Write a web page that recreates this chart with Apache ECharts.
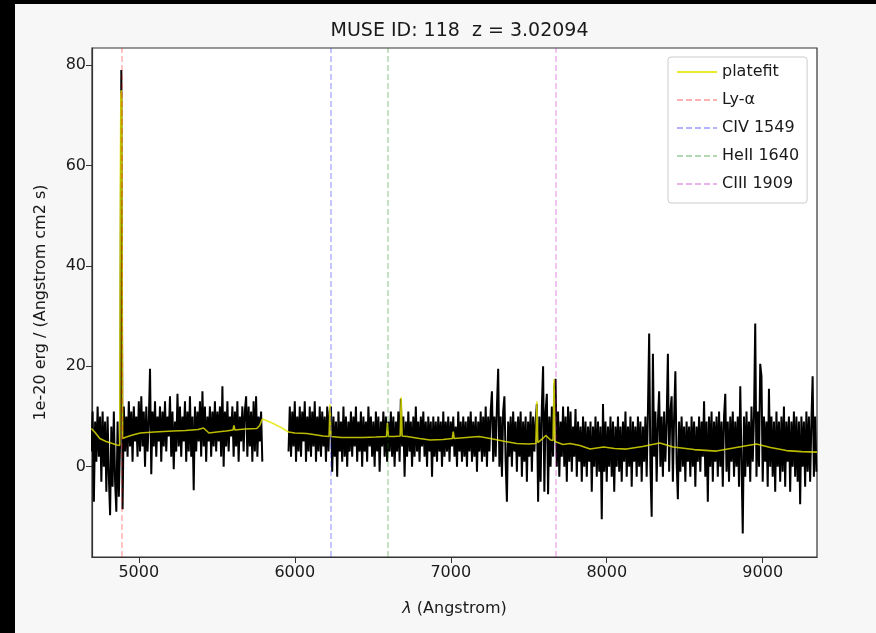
<!DOCTYPE html>
<html><head><meta charset="utf-8">
<script src="https://cdn.jsdelivr.net/npm/echarts@6/dist/echarts.min.js"></script>
<style>
html,body{margin:0;padding:0;background:#000;width:876px;height:633px;overflow:hidden}
#fig{position:absolute;left:15px;top:4px;width:861px;height:629px;background:#f7f7f7}
</style>
</head><body><div id="fig"></div>
<script>
// ---- data ----
const museId = 118;
const redshift = 3.02094;
const fluxStart = 4696;   // first wavelength of the spectrum grid (Angstrom)
const fluxStep = 8;       // grid step (Angstrom)
const flux = [
  3, 11, -7, 9, 1, 12, 2, 10, -3, 11, 0, 9, -5, 10, -2, -9.7, 8, -4, 11, -3, -9, 9, -6, 5, 79,
  -8.5, 12, 3, 10, 2, 13, 4, 11, 1, 12, 5, 10, 2, 13, 3, 14, 4, 11, 0, 12, 3, 9, 19.5, -1.5, 11,
  4, 13, 2, 10, 5, 12, 1, 11, 4, 13, 3, 10, 6, 14, 2, 11, -0.5, 9, 3, 14.5, 4, 12, 2, 10, 5,
  13, 1, 11, 3, 14, 2, 10, -4.7, 12, 3, 11, 5, 13, 2, 15, 4, 12, 1, 10, 5, 12, 2, 11, 4, 13,
  3, 11, 5, 12, 2, 16, 0, 11, 4, 13, 3, 10, 6, 12, 2, 11, 4, 13, 1, 10, 5, 12, 3, 11, 14,
  2, 12, 4, 11, 1, 13, 3, 14, 2, 10, 5, 11, 1, null, null, null, null, null, null, null, null, null, null, null, null,
  null, null, null, null, null, null, null, null, 3, 12, 2, 11, 4, 13, 1, 10, 3, 12, 2, 11, 5, 13, 1, 10, 3,
  12, 2, 11, 4, 13, 1, 10, 3, 12, 2, 11, 4, 10, 1, 12, 3, 11, 12, -1, 10, 2, 9, -2, 11, 3,
  9, 1, 12, 2, 10, 0, 9, 3, 11, 2, 10, 4, 12, 1, 9, 3, 11, 0, 10, 3, 9, 1, 12, 4, 10,
  2, 9, 0, 11, 3, 10, -1, 9, 4, 11, 2, 10, 1, 9, 3, 11, 2, 10, 0, 9, 3, 11, 1, 13.5, 4,
  10, -2, 9, 2, 11, 3, 9, 0, 10, 2, 12, 3, 9, 1, 10, 4, 11, 2, 9, 0, 10, 3, 9, -2, 10,
  2, 9, 1, 10, 3, 9, 0, 11, 2, 9, 3, 10, 1, 9, 4, 10, 2, 8, 0, 11, 3, 9, 1, 10, 2,
  9, 0, 10, 3, 11, 1, 9, 2, 10, -1, 9, 3, 11, 1, 10, 2, 12, 0, 10, 3, 11, 15, 1, 10, 2,
  12, 19.5, 0, 10, -2, 11, 14, 1, -7, 9, 2, 10, 0, 11, 3, 9, -1, 10, 2, 11, -2, 9, 1, 10, -3,
  9, 2, 11, -1, 10, 3, 9, 12.5, -7, 10, -3, 12, 20, -5, 11, 14.5, -5.5, 10, 0, 12, 2, 16, 17.5, 0, 11,
  -2, 9, 2, 12, 0, 10, -3, 12, 1, 11, -1, 8, 2, 11.5, -2, 9, 1, 8, -3, 10, 0, 9, -2, 8, 1,
  9, -5, 8, 0, 10, -2, 9, -1, 8, -10.5, 12.5, -1, 9, -3, 8, 0, 10, -2, 9, -5, 8, 0, 10, -1, 8,
  -3, 9, 1, 11, -2, 8, 0, 10, -4, 9, 1, 8, -2, 10, 0, 9, -3, 8, 1, 10, -2, 11, 26.5, 0, -10,
  22.5, 2, 11, -3, 9, 15, 0, 10, -2, 11, 1, 9, 22.5, -1, 11, 14, -3, 10, 19, 1, -6.5, 9, -1, 10, 0,
  8, -3, 9, 1, 8, -2, 10, 0, 9, -4, 8, 1, 10, -1, 9, 2, 13, -2, 9, -7, 10, 0, 11, -3, 9,
  1, 10, -2, 11, 0, 9, -4, 10, 14.5, -1, 9, -3, 10, 1, 11, -2, 9, 0, 10, -4, 16, 1, -13.3, 10, -2,
  11, 0, 9, -3, 12, 1, 10, 28.5, -2, 11, 0, 20.5, 18, -3, 10, 1, 9, -4, 15.5, 0, 10, -2, 9, -5, 11,
  0, 9, -3, 10, -1, 12, -4, 9, 1, 10, -5, 9, 0, 11, -2, 10, -3, 9, -7.5, 10, 0, 9, -4, 11, -1,
  10, -3, 9, 18, -2, 10, -1
];
const fitWave = [4696, 4720, 4750, 4790, 4820, 4860, 4878, 4882, 4885, 4888, 4891, 4896, 4920, 4960, 5010, 5100,
  5220, 5300, 5380, 5415, 5450, 5500, 5560, 5604, 5610, 5616, 5680, 5757, 5775, 5792, 5842, 5906, 5960,
  6000, 6077, 6183, 6220, 6226, 6232, 6300, 6440, 6520, 6588, 6594, 6600, 6640, 6676, 6682, 6688, 6720,
  6800, 6867, 6950, 7010, 7016, 7022, 7100, 7180, 7253, 7350, 7423, 7500, 7546, 7552, 7558, 7596, 7610,
  7640, 7656, 7662, 7668, 7720, 7764, 7828, 7893, 7980, 8050, 8126, 8230, 8340, 8426, 8560, 8704, 8830,
  8960, 9050, 9152, 9250, 9348];
const fitFlux = [7.6, 6.8, 5.6, 5.0, 4.7, 4.3, 4.2, 60, 74, 75, 73, 5.6, 5.9, 6.3, 6.7, 6.9,
  7.1, 7.2, 7.4, 7.7, 6.7, 6.9, 7.1, 7.3, 8.2, 7.3, 7.5, 7.6, 8.2, 9.5, 8.9, 7.9, 6.9,
  6.7, 6.6, 6.1, 6.0, 12.4, 6.0, 5.8, 5.8, 5.9, 6.0, 8.7, 6.0, 6.0, 6.1, 13.8, 6.1, 6.0,
  5.6, 5.3, 5.4, 5.6, 7.0, 5.6, 5.8, 6.0, 5.6, 5.0, 4.6, 4.5, 4.6, 13.0, 4.8, 5.8, 6.2,
  5.3, 5.2, 17.4, 5.0, 4.4, 4.6, 4.2, 3.5, 3.9, 3.6, 3.5, 4.0, 4.7, 3.9, 3.4, 3.1, 3.8,
  4.5, 3.8, 3.2, 3.0, 2.9];
const lineNames = ['Ly-α', 'CIV 1549', 'HeII 1640', 'CIII 1909'];
const restWave = [1215.67, 1549, 1640, 1909];
const xTicks = [5000, 6000, 7000, 8000, 9000];
const yTicks = [0, 20, 40, 60, 80];

// ---- styles ----
const lineColors = ['rgba(255,0,0,0.3)', 'rgba(0,0,255,0.3)', 'rgba(0,128,0,0.3)', 'rgba(191,0,191,0.3)'];
const fitColor = 'rgba(228,228,0,0.82)';
const FONT = 'DejaVu Sans';
const dash = [6, 3];

const specData = flux.map((v, i) => [fluxStart + i * fluxStep, v === null ? '-' : v]);
const fitData = fitWave.map((w, i) => [w, fitFlux[i]]);

const series = [
  { name: 'spectrum', type: 'line', data: specData, symbol: 'none', showSymbol: false,
    sampling: null, connectNulls: false, z: 2,
    lineStyle: { color: '#000', width: 2, join: 'miter', miterLimit: 2 }, itemStyle: { color: '#000' } },
  { name: 'platefit', type: 'line', data: fitData, symbol: 'none', showSymbol: false, z: 3,
    lineStyle: { color: fitColor, width: 1.6 }, itemStyle: { color: fitColor } }
];
lineNames.forEach((n, k) => {
  series.push({
    name: n, type: 'line', data: [], symbol: 'none', z: 4,
    lineStyle: { color: lineColors[k], width: 1.5, type: dash },
    itemStyle: { color: lineColors[k] },
    markLine: { silent: true, symbol: 'none', animation: false,
      label: { show: false },
      lineStyle: { color: lineColors[k], width: 1.5, type: dash },
      data: [{ xAxis: restWave[k] * (1 + redshift) }] }
  });
});

const chart = echarts.init(document.getElementById('fig'), null, { renderer: 'canvas' });
chart.setOption({
  animation: false,
  backgroundColor: '#f7f7f7',
  title: {
    text: 'MUSE ID: ' + museId + '  z = ' + redshift,
    left: 439.5, top: 13, textAlign: 'center',
    textStyle: { fontFamily: FONT, fontSize: 19, fontWeight: 'normal', color: '#1a1a1a' }
  },
  legend: {
    data: ['platefit'].concat(lineNames),
    orient: 'vertical', left: 653, top: 53,
    padding: [5, 8, 9, 8], itemGap: 8, itemWidth: 40, itemHeight: 14,
    backgroundColor: 'rgba(255,255,255,0.85)', borderColor: '#cccccc', borderWidth: 1, borderRadius: 3,
    selectedMode: false,
    itemStyle: { opacity: 0 },
    textStyle: { fontFamily: FONT, fontSize: 16, color: '#1a1a1a', lineHeight: 20 }
  },
  grid: { left: 77, top: 44, width: 725, height: 509, show: true,
    backgroundColor: '#ffffff', borderColor: '#333333', borderWidth: 1.2, containLabel: false },
  xAxis: {
    type: 'value', min: 4700, max: 9348,
    name: '{i|λ} (Angstrom)', nameLocation: 'middle', nameGap: 44,
    nameTextStyle: { fontFamily: FONT, fontSize: 16, color: '#1a1a1a',
      rich: { i: { fontFamily: FONT, fontSize: 16, fontStyle: 'italic', color: '#1a1a1a' } } },
    axisLine: { show: true, onZero: false, lineStyle: { color: '#333333', width: 1.2 } },
    axisTick: { show: true, length: 6, customValues: xTicks, lineStyle: { color: '#333333' } },
    axisLabel: { customValues: xTicks, formatter: v => String(v), fontFamily: FONT, fontSize: 16, color: '#1a1a1a', margin: 8 },
    splitLine: { show: false }
  },
  yAxis: {
    type: 'value', min: -18, max: 83.4,
    name: '1e-20 erg / (Angstrom cm2 s)', nameLocation: 'middle', nameGap: 43,
    nameTextStyle: { fontFamily: FONT, fontSize: 16, color: '#1a1a1a' },
    axisLine: { show: true, onZero: false, lineStyle: { color: '#333333', width: 1.2 } },
    axisTick: { show: true, length: 6, customValues: yTicks, lineStyle: { color: '#333333' } },
    axisLabel: { customValues: yTicks, formatter: v => String(v), fontFamily: FONT, fontSize: 16, color: '#1a1a1a', margin: 6 },
    splitLine: { show: false }
  },
  series: series
});
</script></body></html>
